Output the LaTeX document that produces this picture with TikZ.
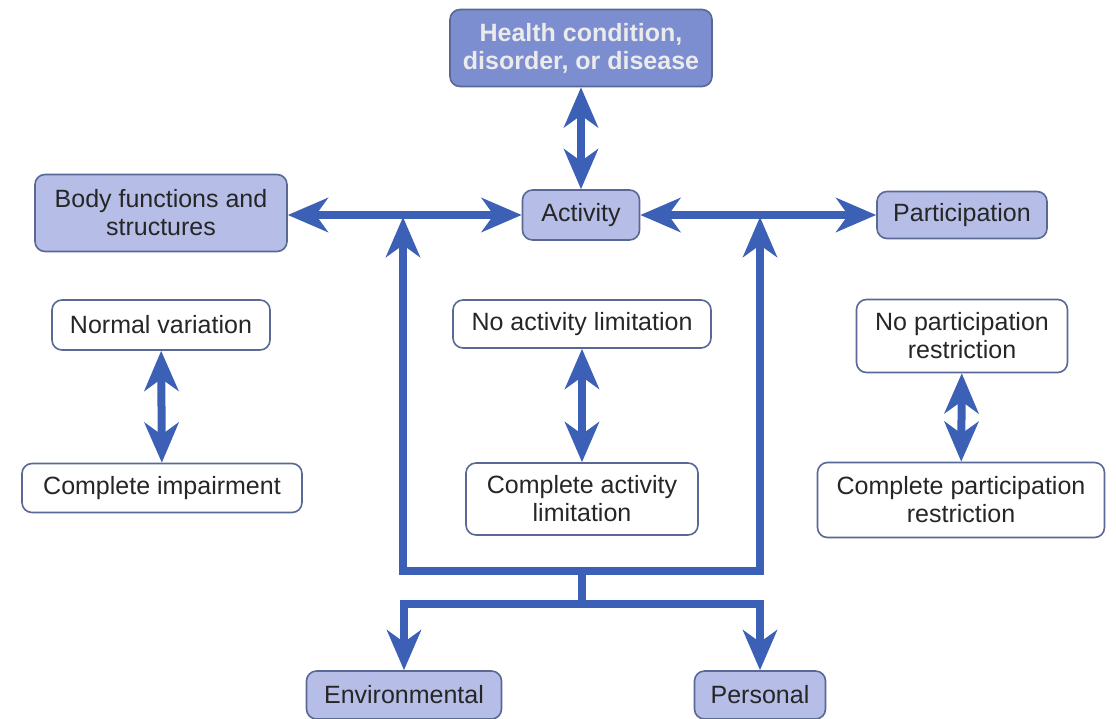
\documentclass[tikz,border=0pt]{standalone}
\usepackage{fontspec}
\setmainfont{Liberation Sans}
\usetikzlibrary{arrows.meta}
\definecolor{linecol}{RGB}{59,96,181}
\definecolor{darkfill}{RGB}{125,142,208}
\definecolor{lightfill}{RGB}{182,190,232}
\definecolor{boxborder}{RGB}{90,104,150}
\tikzset{
  box/.style={draw=boxborder, line width=1.6pt, rounded corners=10pt, align=center,
    font=\fontsize{25}{28}\selectfont, text=black!85, inner sep=0pt},
  lightbox/.style={box, fill=lightfill},
  whitebox/.style={box, fill=white},
  darkbox/.style={box, fill=darkfill, text=white!92!black, font=\fontsize{25}{28}\selectfont\bfseries},
  conn/.style={draw=linecol, line width=8pt},
  bi/.style={conn, {Stealth[length=40pt,width=34pt,inset=12pt]}-{Stealth[length=40pt,width=34pt,inset=12pt]}},
  uni/.style={conn, -{Stealth[length=40pt,width=34pt,inset=12pt]}},
}
\begin{document}
\begin{tikzpicture}[x=1pt,y=-1pt]
\useasboundingbox (0,0) rectangle (1116,718);
\node[darkbox, minimum width=262pt, minimum height=77pt] (health) at (581,48) {Health condition,\\disorder, or disease};
\node[lightbox, minimum width=117pt, minimum height=50pt] (act) at (581,215) {Activity};
\node[lightbox, minimum width=252pt, minimum height=77pt] (body) at (161,213) {Body functions and\\structures};
\node[lightbox, minimum width=170pt, minimum height=47pt] (part) at (962,215) {Participation};
\node[whitebox, minimum width=218pt, minimum height=50pt] (nv) at (161,325) {Normal variation};
\node[whitebox, minimum width=280pt, minimum height=49pt] (ci) at (162,488) {Complete impairment};
\node[whitebox, minimum width=258pt, minimum height=48pt] (nal) at (582,324) {No activity limitation};
\node[whitebox, minimum width=232pt, minimum height=72pt] (cal) at (582,499) {Complete activity\\limitation};
\node[whitebox, minimum width=211pt, minimum height=73pt] (npr) at (962,336) {No participation\\restriction};
\node[whitebox, minimum width=287pt, minimum height=75pt] (cpr) at (961,500) {Complete participation\\restriction};
\node[lightbox, minimum width=195pt, minimum height=48pt] (env) at (404,695) {Environmental};
\node[lightbox, minimum width=131pt, minimum height=48pt] (pers) at (760,695) {Personal};

\coordinate (lt) at (403,217);
\coordinate (lb) at (403,571);
\coordinate (rb) at (760,571);
\coordinate (rt) at (760,217);
\coordinate (sm) at (582,571);
\coordinate (jb) at (582,604);

\draw[bi] (health) -- (act);
\draw[bi] (body.east |- act) -- (act);
\draw[bi] (act) -- (part);
\draw[bi] (nv) -- (ci);
\draw[bi] (nal) -- (cal);
\draw[bi] (npr) -- (cpr);
\draw[bi] (lt) -- (lb) -- (rb) -- (rt);
\draw[conn] (sm) -- (jb);
\draw[uni] (jb) -| (env.north);
\draw[uni] (jb) -| (pers.north);
\end{tikzpicture}
\end{document}
